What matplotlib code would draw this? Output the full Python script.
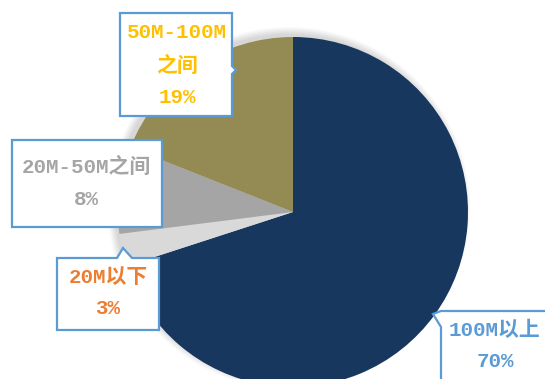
import matplotlib.pyplot as plt
from matplotlib.patches import Polygon, Circle

# data
labels = ['100M以上', '20M以下', '20M-50M之间', '50M-100M之间']
shares = [70, 3, 8, 19]
colors = ['#17375E', '#D9D9D9', '#A5A5A5', '#948A54']
label_colors = ['#5B9BD5', '#ED7D31', '#A5A5A5', '#FFC000']
label_texts = ['100M以上\n70%', '20M以下\n3%', '20M-50M之间\n8%', '50M-100M\n之间\n19%']

W, H = 545, 379
fig = plt.figure(figsize=(W / 100, H / 100), dpi=100)
ax = fig.add_axes([0, 0, 1, 1])


def Y(y):
    return H - y


cx, cy, r = 293, Y(212), 175

# soft shadow behind the pie, mostly up-left
for i in range(8):
    ax.add_patch(Circle((cx - 4, cy + 4), r + 6 - i, color='#000000', alpha=0.018, lw=0, zorder=0))

ax.pie(shares, colors=colors, startangle=90, counterclock=False,
       center=(cx, cy), radius=r, frame=True,
       wedgeprops=dict(linewidth=0))

# callout boxes (pixel coords, y down)
boxes = [
    [(441, 311), (560, 311), (560, 400), (441, 400), (441, 327), (433, 314)],
    [(57, 258), (117, 258), (123, 248), (132, 258), (159, 258), (159, 330), (57, 330)],
    [(12, 140), (162, 140), (162, 227), (12, 227)],
    [(120, 13), (232, 13), (232, 66), (236, 70), (232, 74), (232, 116), (120, 116)],
]
text_pos = [(495, 346), (108, 293), (86, 183), (177, 65)]

for pts, (tx, ty), txt, c in zip(boxes, text_pos, label_texts, label_colors):
    ax.add_patch(Polygon([(x, Y(y)) for x, y in pts], closed=True,
                         facecolor='white', edgecolor='#5B9BD5', lw=1.6, zorder=5))
    ax.text(tx, Y(ty), txt, ha='center', va='center', color=c,
            fontsize=15, fontweight='bold', linespacing=1.85,
            family=['Liberation Mono', 'Noto Sans CJK SC'], zorder=6)

ax.set_xlim(0, W)
ax.set_ylim(0, H)
ax.set_aspect('auto')
ax.set_axis_off()

fig.savefig('out.png', dpi=100)
